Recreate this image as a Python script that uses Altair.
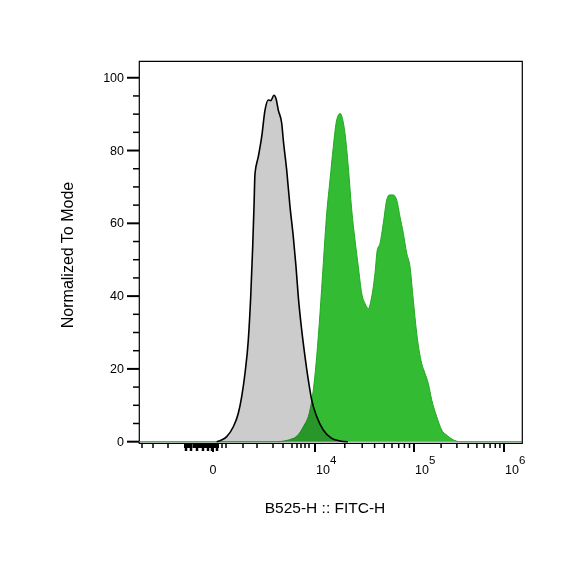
import altair as alt
import pandas as pd

# x values are positions on the cytometer's biexponential display scale (display units)
gray_x = [77.7, 87.7, 94.3, 99.3, 102.7, 106, 109.3, 111.7, 113.7, 115, 116, 119.3, 122.7, 126,
          129.3, 131.7, 135, 137, 139.3, 142.7, 144.3, 147.7, 151, 154.3, 157, 159.3, 162.7, 166,
          169.3, 172.7, 177.7, 184.3, 192.7, 201, 209]
gray_y = [0, 1.4, 4.1, 7.8, 12.4, 18.8, 27.9, 39.8, 53.6, 64.6, 73.7, 78.3, 83.8, 91.1,
          93.9, 93.7, 95.2, 94.3, 91.1, 87.5, 82.9, 74.6, 64.6, 56.3, 48.1, 39.8, 30.7, 23.4,
          17.0, 11.5, 6.9, 3.2, 0.9, 0.2, 0]

green_x = [0, 137.7, 154.3, 164.3, 171, 174.3, 177.7, 181, 184.3, 187.7, 191, 194.3, 197.7, 201,
           206, 209.3, 212.7, 216, 219.3, 222.7, 226, 229.3, 232.7, 236, 238.3, 241, 244.3, 247.7,
           250.3, 254.3, 257.7, 261, 264.3, 267.7, 271, 274.3, 277.7, 282.7, 286, 289.3, 292.7,
           297.7, 302.7, 307.7, 314.3, 321, 383]
green_y = [0, 0, 0.9, 4.1, 8.7, 14.2, 23.4, 35.3, 49.0, 62.7, 71.9, 81.0, 88.4, 90.2,
           84.7, 75.5, 63.7, 55.4, 48.1, 40.8, 38.0, 36.6, 39.8, 46.3, 52.7, 54.5, 60.0, 66.4,
           67.8, 67.8, 66.4, 61.8, 57.3, 51.8, 48.1, 38.9, 29.8, 21.5, 18.8, 16.0, 11.5,
           6.9, 3.2, 1.8, 0.5, 0, 0]

y_major = [0, 20, 40, 60, 80, 100]
y_minor = [5, 10, 15, 25, 30, 35, 45, 50, 55, 65, 70, 75, 85, 90, 95]

x_major = [74, 176, 275, 365]
x_label_base = ["0", "10", "10", "10"]
x_label_exp = ["", "4", "5", "6"]
x_minor = [3, 14, 29,
           83, 87, 104, 118, 134, 144, 153, 158, 162, 166, 170,
           205.8, 223.2, 235.6, 245.2, 253.0, 259.7, 265.4, 270.5,
           302.1, 317.9, 329.2, 337.9, 345.0, 351.1, 356.3, 360.9]
# dense linear-region ticks around zero (-1000 .. 1000)
x_dense = [46, 48, 50, 52.5, 55, 57, 59, 61, 63, 65, 67, 69, 71, 73, 75, 77, 79]
x_dense_long = [47, 52, 58, 64, 69, 73, 78]

FONT = "Liberation Sans"

gray = pd.DataFrame({"u": gray_x, "v": gray_y})
green = pd.DataFrame({"u": green_x, "v": green_y})

xs = alt.Scale(domain=[0, 383], nice=False, zero=False)
ys = alt.Scale(domain=[-0.36, 104.6], nice=False, zero=False)
X = alt.X("u:Q", scale=xs, axis=None)
Y = alt.Y("v:Q", scale=ys, axis=None)

green_area = alt.Chart(green).mark_area(color="#33bb33", interpolate="monotone").encode(x=X, y=Y)
green_line = alt.Chart(green).mark_line(color="#22aa22", strokeWidth=1, interpolate="monotone").encode(x=X, y=Y)
gray_area = alt.Chart(gray).mark_area(color="#cccccc", blend="multiply", interpolate="monotone").encode(x=X, y=Y)
gray_line = alt.Chart(gray).mark_line(color="black", strokeWidth=1.6, interpolate="monotone").encode(x=X, y=Y)

ymaj = pd.DataFrame({"v": y_major, "lab": [str(v) for v in y_major]})
ymin = pd.DataFrame({"v": y_minor})
ymaj_ticks = alt.Chart(ymaj).mark_rule(color="black", strokeWidth=2).encode(
    y=Y, x=alt.value(-12), x2=alt.value(0))
ymin_ticks = alt.Chart(ymin).mark_rule(color="black", strokeWidth=1.5).encode(
    y=Y, x=alt.value(-6), x2=alt.value(0))
ylabels = alt.Chart(ymaj).mark_text(align="right", baseline="middle", font=FONT, fontSize=12.5,
                                    color="black").encode(y=Y, x=alt.value(-15), text="lab:N")

xmaj = pd.DataFrame({"u": x_major, "base": x_label_base, "exp": x_label_exp})
xmin = pd.DataFrame({"u": x_minor})
xden = pd.DataFrame({"u": x_dense})
xden_long = pd.DataFrame({"u": x_dense_long})
xmaj_ticks = alt.Chart(xmaj).mark_rule(color="black", strokeWidth=2).encode(
    x=X, y=alt.value(382), y2=alt.value(391))
xmin_ticks = alt.Chart(xmin).mark_rule(color="black", strokeWidth=1.5).encode(
    x=X, y=alt.value(382), y2=alt.value(387))
xden_ticks = alt.Chart(xden).mark_rule(color="black", strokeWidth=2).encode(
    x=X, y=alt.value(382), y2=alt.value(387))
xden_long_ticks = alt.Chart(xden_long).mark_rule(color="black", strokeWidth=2.5).encode(
    x=X, y=alt.value(382), y2=alt.value(390))
zero_label = alt.Chart(xmaj).transform_filter("datum.exp == ''").mark_text(
    align="center", baseline="middle", font=FONT, fontSize=12.5, color="black").encode(
    x=X, y=alt.value(409), text="base:N")
dec_base = alt.Chart(xmaj).transform_filter("datum.exp != ''").mark_text(
    align="left", baseline="middle", font=FONT, fontSize=12.5, color="black", dx=1).encode(
    x=X, y=alt.value(409), text="base:N")
dec_exp = alt.Chart(xmaj).transform_filter("datum.exp != ''").mark_text(
    align="left", baseline="middle", font=FONT, fontSize=11.5, color="black", dx=15).encode(
    x=X, y=alt.value(400), text="exp:N")

ytitle = alt.Chart(pd.DataFrame({"t": ["Normalized To Mode"]})).mark_text(
    angle=270, align="center", baseline="middle", font=FONT, fontSize=16, color="black").encode(
    x=alt.value(-71), y=alt.value(194), text="t:N")
xtitle = alt.Chart(pd.DataFrame({"t": ["B525-H :: FITC-H"]})).mark_text(
    align="center", baseline="middle", font=FONT, fontSize=15.5, color="black").encode(
    x=alt.value(186), y=alt.value(447), text="t:N")

chart = alt.layer(
    green_area, green_line, gray_area, gray_line,
    ymaj_ticks, ymin_ticks, ylabels,
    xmaj_ticks, xmin_ticks, xden_ticks, xden_long_ticks, zero_label, dec_base, dec_exp,
    ytitle, xtitle,
).properties(
    width=383, height=382,
    padding={"left": 131, "top": 53, "right": 20, "bottom": 90},
    autosize="none",
    background="white",
).configure_view(stroke="black", strokeWidth=1.2)

chart.save("out.html", embed_options={"renderer": "svg", "actions": False})
